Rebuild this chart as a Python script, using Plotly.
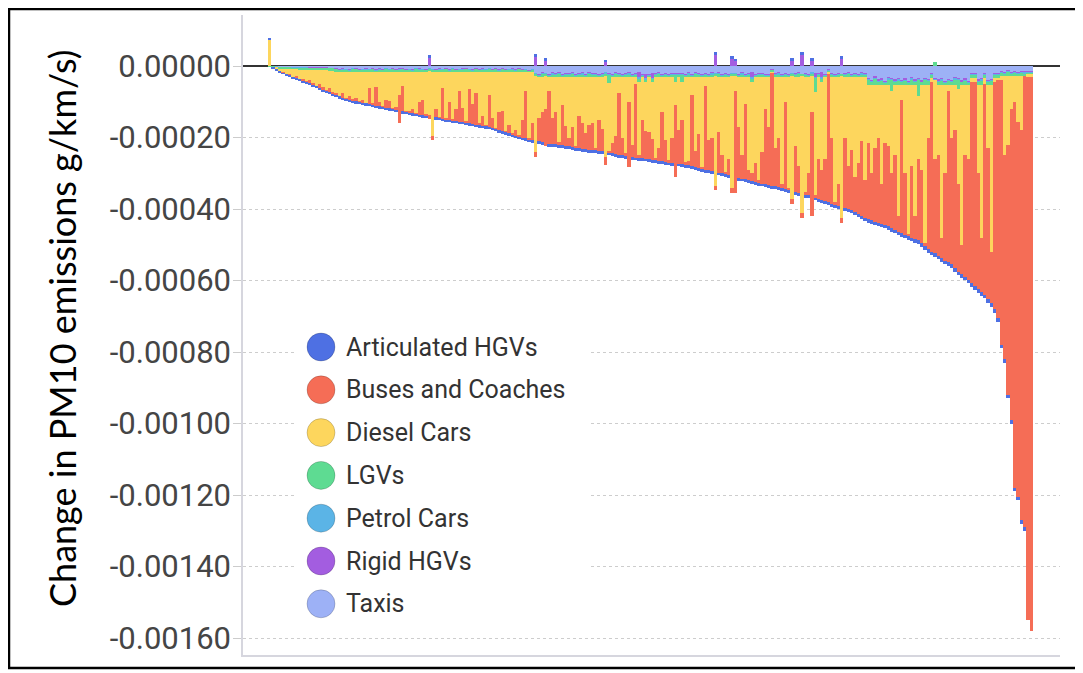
"""Stacked bar chart: change in PM10 emissions by vehicle type, per road segment."""

import plotly.graph_objects as go

# values below are in micro-g/km/s (1e-6 g/km/s), one entry per road segment
N_SEGMENTS = 230
SEGMENTS = list(range(N_SEGMENTS))

TAXIS = [
    -1, -2, -2, -3, -3, -3, -3, -4, -4, -4,
    -4, -4, -5, -5, -5, -5, -5, -5, -6, -6,
    -8, -10, -7, -9, -11, -6, -8, -10, -9, -7,
    -9, -8, -11, -7, -10, -6, -9, -8, -10, -7,
    -8, -10, -9, -11, -6, -7, -9, -10, -8, -9,
    -10, -7, -9, -8, -11, -6, -10, -9, -7, -8,
    -9, -11, -8, -10, -7, -9, -6, -10, -8, -11,
    -8, -10, -9, -7, -11, -8, -10, -9, -12, -9,
    -20, -23, -18, -22, -24, -19, -21, -17, -23, -20,
    -22, -18, -24, -21, -19, -23, -17, -22, -20, -24,
    -21, -19, -20, -23, -18, -22, -24, -20, -19, -23,
    -22, -18, -24, -21, -23, -19, -22, -17, -24, -20,
    -23, -21, -20, -22, -20, -24, -19, -23, -18, -22,
    -24, -20, -23, -19, -22, -18, -24, -21, -23, -20,
    -22, -24, -19, -23, -21, -18, -24, -22, -20, -23,
    -24, -10, -22, -19, -23, -21, -24, -20, -22, -18,
    -23, -21, -24, -19, -20, -22, -18, -24, -10, -21,
    -24, -20, -23, -22, -18, -24, -21, -23, -19, -22,
    -34, -40, -30, -38, -36, -42, -32, -34, -39, -35,
    -40, -36, -43, -32, -38, -34, -41, -34, -37, -20,
    -34, -39, -35, -42, -37, -40, -32, -34, -41, -36,
    -43, -20, -20, -38, -35, -20, -40, -37, -20, -20,
    -15, -18, -13, -17, -14, -19, -15, -16, -14, -14,
]

RIGID_HGVS = [
    0, 0, 0, -1, -1, -1, -1, -1, -1, -1,
    -1, -1, -1, -1, -1, -1, -1, -1, -1, -1,
    -2, -2, -2, -2, -2, -2, -2, -2, -2, -2,
    -2, -2, -2, -2, -2, -2, -2, -2, -2, -2,
    -2, -2, -2, -2, -2, -2, -2, -2, 22, -2,
    -2, -2, -2, -2, -2, -2, -2, -2, -2, -2,
    -2, -2, -2, -2, -2, -2, -2, -2, -2, -2,
    -2, -2, -2, -2, -2, -2, -2, -2, -2, -2,
    25, -3, -3, 15, -3, -3, -3, -3, -3, -3,
    -3, -3, -3, -3, -3, -3, -3, -3, -3, -3,
    -3, 12, -3, -3, -3, -3, -3, -3, -3, -3,
    -3, -15, -3, -15, -3, -15, -3, -3, -3, -3,
    -3, -3, -3, -3, -3, -3, -3, -3, -3, -3,
    -3, -3, -3, -3, 30, -3, -3, -3, -3, 20,
    15, -3, -3, -3, -3, -15, -3, -3, -3, -3,
    -3, -2, -3, -3, -3, -3, -3, 15, -3, -3,
    30, -3, -3, 15, -12, -3, -15, -3, -2, -3,
    -3, -3, 20, -3, -3, -3, -3, -3, -3, -3,
    -4, -4, -4, -4, -4, -4, -4, -4, -4, -4,
    -4, -4, -4, -4, -4, -4, -4, -4, -4, -3,
    -4, -4, -4, -4, -4, -4, -4, -4, -4, -4,
    -4, -3, -3, -4, -4, -3, -4, -4, -3, -3,
    -3, -3, -3, -3, -3, -3, -3, -3, -3, -3,
]

PETROL_CARS = [
    0, 0, -1, -1, -1, -1, -1, -1, -1, -1,
    -1, -1, -1, -1, -1, -1, -1, -1, -1, -1,
    -1, -1, -1, -1, -1, -1, -1, -1, -1, -1,
    -1, -1, -1, -1, -1, -1, -1, -1, -1, -1,
    -1, -1, -1, -1, -1, -1, -1, -1, -1, -1,
    -1, -1, -1, -1, -1, -1, -1, -1, -1, -1,
    -1, -1, -1, -1, -1, -1, -1, -1, -1, -1,
    -1, -1, -1, -1, -1, -1, -1, -1, -1, -1,
    -2, -2, -2, -2, -2, -2, -2, -2, -2, -2,
    -2, -2, -2, -2, -2, -2, -2, -2, -2, -2,
    -2, -2, -2, -2, -2, -2, -2, -2, -2, -2,
    -2, -2, -2, -2, -2, -2, -2, -2, -2, -2,
    -2, -2, -2, -2, -2, -2, -2, -2, -2, -2,
    -2, -2, -2, -2, -2, -2, -2, -2, -2, -2,
    -2, -2, -2, -2, -2, -2, -2, -2, -2, -2,
    -2, -1, -2, -2, -2, -2, -2, -2, -2, -2,
    -2, -2, -2, -2, -2, -2, -2, -2, -1, -2,
    -2, -2, -2, -2, -2, -2, -2, -2, -2, -2,
    -2, -2, -2, -2, -2, -2, -2, -2, -2, -2,
    -2, -2, -2, -2, -2, -2, -2, -2, -2, -2,
    -2, -2, -2, -2, -2, -2, -2, -2, -2, -2,
    -2, -2, -2, -2, -2, -2, -2, -2, -2, -2,
    -2, -2, -2, -2, -2, -2, -2, -2, -2, -2,
]

LGVS = [
    -1, -1, -2, -2, -3, -3, -3, -3, -3, -4,
    -4, -4, -4, -4, -5, -5, -5, -5, -5, -5,
    -5, -3, -6, -4, -2, -7, -5, -3, -4, -6,
    -4, -5, -2, -6, -3, -7, -4, -5, -3, -6,
    -5, -3, -4, -2, -7, -6, -4, -3, -5, -4,
    -3, -6, -4, -5, -2, -7, -3, -4, -6, -5,
    -4, -2, -5, -3, -6, -4, -7, -3, -5, -2,
    -5, -3, -4, -6, -2, -5, -3, -4, -1, -4,
    -7, -4, -9, -5, -3, -8, -6, -10, -4, -7,
    -5, -9, -3, -6, -8, -4, -10, -5, -7, -3,
    -6, -8, -22, -4, -9, -5, -3, -7, -8, -4,
    -5, -9, -3, -6, -4, -8, -5, -10, -3, -7,
    -4, -6, -20, -5, -20, -3, -8, -4, -9, -5,
    -3, -7, -4, -8, -5, -9, -3, -6, -4, -7,
    -5, -3, -8, -4, -6, -9, -3, -5, -7, -4,
    -3, -5, -5, -8, -4, -6, -3, -7, -5, -9,
    -4, -6, -3, -8, -40, -5, -9, -3, -6, -6,
    -3, -7, -4, -5, -9, -3, -6, -4, -8, -5,
    -12, -6, -16, -8, -10, -4, -14, -30, -7, -11,
    -6, -10, -3, -14, -8, -45, -5, -12, -9, -8,
    12, -7, -11, -4, -9, -6, -14, -25, -5, -10,
    -3, -8, -8, -8, -11, -8, -6, -9, -8, -8,
    -8, -5, -10, -6, -9, -4, -8, -7, -6, -6,
]

DIESEL_CARS = [
    73, -2, -5, -8, -10, -15, -15, -22, -20, -27,
    -25, -34, -29, -39, -44, -39, -48, -57, -48, -60,
    -62, -68, -59, -74, -69, -79, -74, -84, -79, -88,
    -46, -89, -44, -84, -96, -79, -82, -102, -99, -64,
    -39, -110, -112, -104, -116, -84, -79, -120, -124, -179,
    -104, -127, -46, -130, -84, -134, -104, -54, -102, -139,
    -49, -89, -59, -146, -124, -150, -66, -129, -158, -114,
    -109, -167, -149, -173, -162, -179, -134, -54, -187, -144,
    -211, -113, -98, -91, -38, -113, -98, -183, -78, -136,
    -168, -138, -193, -108, -128, -156, -133, -128, -200, -118,
    -143, -226, -191, -183, -165, -43, -168, -214, -68, -188,
    -18, -206, -118, -139, -153, -161, -226, -198, -98, -176,
    -233, -168, -65, -146, -105, -239, -233, -48, -205, -158,
    -251, -23, -175, -168, -306, -153, -218, -266, -228, -313,
    -41, -138, -216, -73, -258, -256, -238, -288, -208, -88,
    -138, -2, -198, -168, -298, -68, -308, -343, -193, -248,
    -381, -320, -268, -101, -286, -228, -246, -228, -3, -168,
    -348, -298, -396, -168, -248, -203, -278, -238, -178, -288,
    -163, -248, -178, -148, -278, -163, -173, -230, -198, -368,
    -43, -248, -418, -228, -368, -175, -238, -443, -148, -12,
    -220, -198, -428, -248, -18, -148, -128, -265, -448, -198,
    -208, -12, -12, -248, -428, -17, -178, -468, -12, -7,
    -12, -222, -192, -92, -72, -129, -152, 0, -5, -5,
]

BUSES_AND_COACHES = [
    0, 0, 0, 0, -2, 0, -4, 0, -6, -2,
    -8, -3, -10, -4, -2, -12, -8, -3, -14, -6,
    -5, -2, -15, -3, -11, -3, -10, -2, -9, -2,
    -46, -5, -52, -14, -4, -23, -22, -4, -9, -80,
    -73, -4, -4, -14, -4, -38, -44, -5, -9, -12,
    -25, -4, -87, -5, -52, -4, -35, -87, -40, -5,
    -97, -58, -90, -5, -28, -4, -90, -30, -4, -51,
    -59, -4, -25, -4, -18, -4, -52, -134, -4, -49,
    -14, -66, -83, -104, -148, -74, -89, -5, -111, -55,
    -25, -57, -4, -90, -72, -45, -69, -75, -4, -87,
    -64, -22, -4, -29, -49, -173, -50, -5, -182, -35,
    -206, -7, -108, -76, -75, -57, -6, -35, -137, -61,
    -5, -71, -200, -95, -124, -5, -13, -200, -45, -95,
    -5, -235, -85, -94, -12, -113, -50, -5, -46, -13,
    -285, -143, -67, -212, -29, -21, -54, -7, -89, -211,
    -163, -315, -107, -139, -11, -244, -7, -13, -128, -76,
    -15, -8, -62, -290, -8, -111, -84, -117, -359, -185,
    -9, -62, -15, -198, -121, -169, -98, -143, -209, -105,
    -214, -132, -205, -238, -111, -229, -223, -153, -208, -43,
    -373, -172, -6, -200, -64, -228, -206, -9, -312, -474,
    -264, -281, -58, -244, -478, -355, -385, -245, -83, -339,
    -338, -562, -571, -325, -152, -590, -422, -144, -635, -665,
    -740, -570, -700, -870, -1080, -1048, -1090, -1262, -1520, -1550,
]

ARTICULATED_HGVS = [
    3, -1, -2, -2, -2, -3, -3, -3, -3, -3,
    -3, -3, -3, -3, -3, -3, -4, -4, -4, -4,
    -5, -5, -5, -5, -5, -5, -5, -5, -5, -5,
    -5, -5, -5, -5, -5, -5, -5, -5, -5, 0,
    -5, -5, -5, -5, -5, -5, -5, -5, 10, 0,
    -5, -5, -5, -5, -5, -5, -5, -5, -5, -5,
    -5, -5, -5, -5, -5, -5, -5, -5, -5, -5,
    -5, -5, -5, -5, -5, -5, -5, -5, -5, -5,
    10, -8, -8, 8, -8, -8, -8, -8, -8, -8,
    -8, -8, -8, -8, -8, -8, -8, -8, -8, -8,
    -8, 6, -8, -8, -8, -8, -8, -8, 0, -8,
    -8, -8, -8, -8, -8, -8, -8, -8, -8, -8,
    -8, -8, 0, -8, -8, -8, -8, -8, -8, -8,
    -8, -8, -8, -8, 10, -8, -8, -8, -8, 8,
    6, -8, -8, -8, -8, -8, -8, -8, -8, -8,
    -8, -8, -8, -8, -8, -8, -8, 8, -8, -8,
    10, -8, -8, 8, -8, -8, -8, -8, -8, -8,
    -8, -8, 8, -8, -8, -8, -8, -8, -8, -8,
    -10, -10, -10, -10, -10, -10, -10, -10, -10, -10,
    -10, -10, -10, -10, -10, -10, -10, -10, -10, -10,
    -10, -10, -10, -10, -10, -10, -10, -10, -10, -10,
    -10, -10, -10, -10, -10, -10, -10, -10, -10, -10,
    -10, -10, -10, -10, -10, -10, -10, -10, 0, 0,
]

UNIT = 1e-6  # micro-g/km/s -> g/km/s

TICK_VALUES = [0.0, -0.0002, -0.0004, -0.0006, -0.0008, -0.0010, -0.0012, -0.0014, -0.0016]
TICK_LABELS = ["0.00000", "-0.00020", "-0.00040", "-0.00060", "-0.00080",
               "-0.00100", "-0.00120", "-0.00140", "-0.00160"]

# stacking order: first trace sits next to the zero line
STACK = [
    ("Taxis", TAXIS, "#9db1f6"),
    ("Rigid HGVs", RIGID_HGVS, "#a35de0"),
    ("Petrol Cars", PETROL_CARS, "#5bb4e6"),
    ("LGVs", LGVS, "#5edb92"),
    ("Diesel Cars", DIESEL_CARS, "#fdd65d"),
    ("Buses and Coaches", BUSES_AND_COACHES, "#f56d56"),
    ("Articulated HGVs", ARTICULATED_HGVS, "#4e70e3"),
]
LEGEND_ORDER = ["Articulated HGVs", "Buses and Coaches", "Diesel Cars", "LGVs",
                "Petrol Cars", "Rigid HGVs", "Taxis"]

# the page body adds an 8px margin, so the figure is drawn 8px smaller
PAGE_W, PAGE_H, BODY_MARGIN = 1083, 673, 8
# plot area in page pixels
PLOT_L, PLOT_R, PLOT_T, PLOT_B = 243, 1060, 15, 655


def px_x(x):
    return (x - PLOT_L) / (PLOT_R - PLOT_L)


def px_y(y):
    return (PLOT_B - y) / (PLOT_B - PLOT_T)


fig = go.Figure()
for name, values, color in STACK:
    assert len(values) == N_SEGMENTS, name
    fig.add_trace(go.Bar(
        x=SEGMENTS,
        y=[v * UNIT for v in values],
        name=name,
        marker=dict(color=color, line=dict(width=0)),
        showlegend=False,
        hovertemplate=name + '<br>%{y:.6f}<extra></extra>'
    ))

colors = {name: color for name, _, color in STACK}

shapes = [
    # white box behind the legend
    dict(type="rect", xref="paper", yref="paper", layer="above",
         x0=px_x(296), x1=px_x(588), y0=px_y(628), y1=px_y(323),
         fillcolor="white", line=dict(width=0)),
    # frame around the picture
    dict(type="rect", xref="paper", yref="paper", layer="above",
         x0=px_x(9), x1=px_x(1078), y0=px_y(668), y1=px_y(9),
         line=dict(color="black", width=2.5)),
]
annotations = []
for k, name in enumerate(LEGEND_ORDER):
    cy = 347 + k * 42.8
    shapes.append(dict(
        type="circle", xref="paper", yref="paper", layer="above",
        x0=px_x(307), x1=px_x(335), y0=px_y(cy + 14), y1=px_y(cy - 14),
        fillcolor=colors[name], line=dict(color="rgba(0,0,0,0.18)", width=1)
    ))
    annotations.append(dict(
        text=name, xref="paper", yref="paper", x=px_x(344), y=px_y(cy),
        xanchor="left", yanchor="middle", showarrow=False,
        font=dict(family="Roboto", size=25, color="#333333")
    ))

annotations.append(dict(
    text="Change in PM10 emissions g/km/s)", xref="paper", yref="paper",
    x=px_x(62), y=px_y(329), xanchor="center", yanchor="middle",
    textangle=-90, showarrow=False,
    font=dict(family="Lato", size=36, color="#000000")
))

fig.update_layout(
    barmode="relative",
    bargap=0,
    width=PAGE_W - BODY_MARGIN,
    height=PAGE_H - BODY_MARGIN,
    margin=dict(l=PLOT_L - BODY_MARGIN, r=PAGE_W - PLOT_R,
                t=PLOT_T - BODY_MARGIN, b=PAGE_H - PLOT_B, autoexpand=False),
    plot_bgcolor="white",
    paper_bgcolor="white",
    showlegend=False,
    shapes=shapes,
    annotations=annotations,
)

fig.update_xaxes(
    range=[-8.0, 237.6],
    showticklabels=False,
    ticks="",
    showgrid=False,
    zeroline=False,
    showline=True,
    linecolor="#d6d6de",
    linewidth=2,
)

fig.update_yaxes(
    range=[-0.0016475, 0.0001427],
    tickvals=TICK_VALUES,
    ticktext=TICK_LABELS,
    ticks="outside",
    ticklen=8,
    ticklabelstandoff=-4,
    tickcolor="#cccccc",
    tickfont=dict(family="Roboto", size=31, color="#454545"),
    showgrid=True,
    gridcolor="#cdcdcd",
    griddash="dot",
    gridwidth=1,
    zeroline=True,
    zerolinecolor="#333333",
    zerolinewidth=2,
    showline=True,
    linecolor="#d6d6de",
    linewidth=1.5,
)

fig.write_html("out.html")
